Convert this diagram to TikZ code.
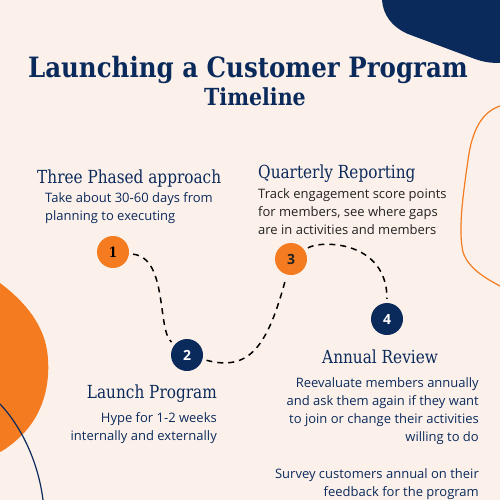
\documentclass[tikz,border=0pt]{standalone}
\usepackage{fontspec}
\setmainfont{DejaVu Serif}
\newfontfamily\titlefont[FakeStretch=0.875]{DejaVu Serif}
\newfontfamily\headfont[FakeStretch=0.85]{DejaVu Serif}
\newfontfamily\bodyfont{Open Sans}
\definecolor{cream}{HTML}{FCF1EA}
\definecolor{navy}{HTML}{0B2A5C}
\definecolor{orng}{HTML}{F47B20}
\definecolor{ink}{HTML}{222222}
\begin{document}
\begin{tikzpicture}[x=1pt,y=-1pt,
  heading/.style={font=\headfont\fontsize{18}{22}\selectfont, text=navy, inner sep=0},
  body/.style={font=\bodyfont\fontsize{13}{18}\selectfont, text=navy, inner sep=0},
  dot/.style={circle, minimum size=32pt, inner sep=0, font=\bodyfont\bfseries\fontsize{14}{16}\selectfont},
  conn/.style={line width=1.5pt, black, dash pattern=on 6pt off 5pt, shorten <=4pt, shorten >=4pt}]
\fill[cream] (0,0) rectangle (500,500);
\useasboundingbox (0,0) rectangle (500,500);
% decorations
\fill[navy] (382,0) .. controls (383,15) and (392,27) .. (408,34) -- (475,59)
  .. controls (485,62.5) and (492,63) .. (500,63) -- (500,0) -- cycle;
\draw[orng, line width=1.2pt] (500,106) .. controls (482,112) and (472,130) .. (468,160)
  .. controls (463,195) and (458,230) .. (463,252) .. controls (468,268) and (485,278) .. (500,286);
\fill[orng] (0,283) .. controls (20,298) and (42,320) .. (47,350)
  .. controls (52,385) and (42,415) .. (22,435) .. controls (14,443) and (6,449) .. (0,452) -- cycle;
\draw[navy, line width=1.2pt] (0,404) .. controls (20,425) and (38,460) .. (43,500);
% titles
\node[font=\titlefont\bfseries\fontsize{28}{32}\selectfont, text=navy, inner sep=0, anchor=base] (title) at (248,78) {Launching a Customer Program};
\node[font=\titlefont\bfseries\fontsize{23.5}{26}\selectfont, text=navy, inner sep=0, anchor=base] (sub) at (255,106) {Timeline};
% circles
\node[dot, fill=orng, text=black, font=\headfont\bfseries\fontsize{14}{16}\selectfont] (c1) at (113,252) {1};
\node[dot, fill=navy, text=white] (c2) at (187,355) {2};
\node[dot, fill=orng, text=ink] (c3) at (291,259) {3};
\node[dot, fill=navy, text=white] (c4) at (387,319) {4};
% connectors
\draw[conn] (c1) .. controls (168,258) and (157,330) .. (c2);
\draw[conn] (c2) .. controls (250,372) and (268,345) .. (c3);
\draw[conn] (c3) .. controls (320,240) and (387,240) .. (c4);
% texts
\node[heading, anchor=base west] (h1) at (37,183) {Three Phased approach};
\node[body, anchor=north west, align=left] (b1) at (45,192) {Take about 30-60 days from\\planning to executing};
\node[heading, anchor=base west] (h3) at (258,178) {Quarterly Reporting};
\node[body, text=ink, anchor=north west, align=left] (b3) at (258,188) {Track engagement score points\\for members, see where gaps\\are in activities and members};
\node[heading, anchor=base east] (h2) at (217,398) {Launch Program};
\node[body, anchor=north east, align=right] (b2) at (217,412) {Hype for 1-2 weeks\\internally and externally};
\node[heading, anchor=base west] (h4) at (322,363) {Annual Review};
\node[body, anchor=north east, align=right] (b4) at (479,377) {Reevaluate members annually\\and ask them again if they want\\to join or change their activities\\willing to do\\[19pt]Survey customers annual on their\\feedback for the program};
\end{tikzpicture}
\end{document}
